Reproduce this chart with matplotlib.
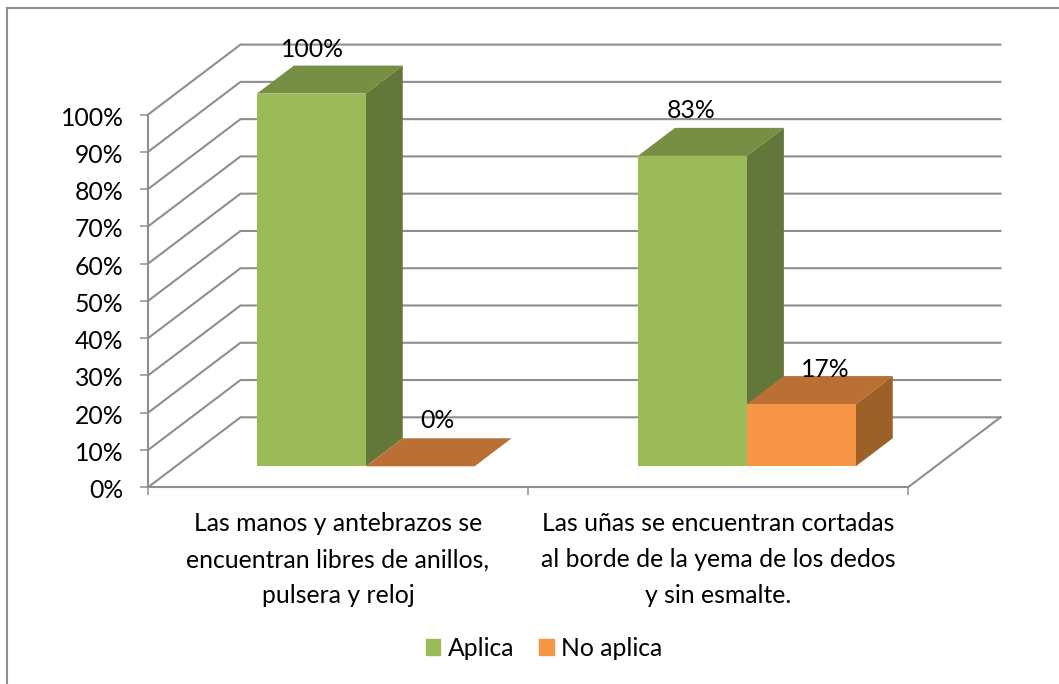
import matplotlib
matplotlib.use("Agg")
import matplotlib.pyplot as plt
from matplotlib.patches import Polygon, Patch
from matplotlib.lines import Line2D
from matplotlib.transforms import Affine2D

plt.rcParams['font.family'] = ['Lato', 'DejaVu Sans']

categories = ["Las manos y antebrazos se\nencuentran libres de anillos,\npulsera y reloj",
              "Las uñas se encuentran cortadas\nal borde de la yema de los dedos\ny sin esmalte."]
series_names = ["Aplica", "No aplica"]
aplica = [100, 83.3]
no_aplica = [0, 16.7]
y_ticks = [0, 10, 20, 30, 40, 50, 60, 70, 80, 90, 100]

FS = 17.8
GRID = "#8e8e8e"
FACE = {"Aplica": ("#9BBB59", "#778F42", "#64773A"),
        "No aplica": ("#F79646", "#BA7034", "#9C6029")}
LABEL_OFF = {"Aplica": [(1.5, 44), (-1.5, 45)], "No aplica": [(17, 46), (24, 35)]}

W, H = 1059, 684
fig = plt.figure(figsize=(W / 100, H / 100), dpi=100, facecolor="white")

# geometry in pixels of the axes box
L, R, B, T = 148, 1002, 487.3, 44.7
PX_CAT = 380.0
PX_PCT = 3.727
DX, DY = 92.5, 70.0

ax = fig.add_axes([L / W, 1 - B / H, (R - L) / W, (B - T) / H])
ax.set_xlim(0, (R - L) / PX_CAT)
ax.set_ylim(0, (B - T) / PX_PCT)
ax.patch.set_visible(False)


def proj(x, y, d):
    """category x, percent y, depth d (0 front .. 1 back) to axes data coords"""
    return x + d * DX / PX_CAT, y + d * DY / PX_PCT


# walls
for v in y_ticks:
    pts = [proj(0, v, 0), proj(0, v, 1), proj(2, v, 1)]
    ax.plot(*zip(*pts), color=GRID, lw=1.5, zorder=1, solid_joinstyle="miter", clip_on=False)
ax.plot(*zip(proj(2, 0, 0), proj(2, 0, 1)), color=GRID, lw=1.5, zorder=1, clip_on=False)


def bar3d(x0, x1, v, name, z):
    front, top, side = FACE[name]
    d0, d1 = 0.3, 0.7
    faces = [
        ([proj(x1, 0, d0), proj(x1, 0, d1), proj(x1, v, d1), proj(x1, v, d0)], side),
        ([proj(x0, v, d0), proj(x1, v, d0), proj(x1, v, d1), proj(x0, v, d1)], top),
        ([proj(x0, 0, d0), proj(x1, 0, d0), proj(x1, v, d0), proj(x0, v, d0)], front),
    ]
    for pts, c in faces:
        ax.add_patch(Polygon(pts, closed=True, facecolor=c, edgecolor="none", zorder=z))


BW = 0.2865
for s, (name, vals) in enumerate(zip(series_names, [aplica, no_aplica])):
    for i, v in enumerate(vals):
        x0 = i + 0.5 - BW + s * BW + (0.003 if i else 0)
        bar3d(x0, x0 + BW, v, name, 2 + s)
        xc, yc = proj(x0 + BW / 2, v, 0.3)
        ax.annotate(f"{v:.0f}%", (xc, yc), xytext=LABEL_OFF[name][i], textcoords="offset pixels",
                    ha="center", va="center", fontsize=FS, color="black", zorder=5,
                    annotation_clip=False)

# axes
for sp in ("top", "right"):
    ax.spines[sp].set_visible(False)
for sp in ("left", "bottom"):
    ax.spines[sp].set_color(GRID)
    ax.spines[sp].set_linewidth(1.5)
ax.spines["left"].set_bounds(0, 100)
ax.spines["bottom"].set_bounds(0, 2)
ax.set_yticks(y_ticks, [f"{v}%" for v in y_ticks], fontsize=FS)
ax.set_xticks([0, 1, 2], ["", "", ""])
ax.set_xticks([0.5, 1.5], categories, minor=True, fontsize=FS, linespacing=1.68)
ax.tick_params(axis="y", length=5.5, width=1.1, color=GRID, pad=12)
ax.tick_params(axis="x", which="major", length=5.5, width=1.1, color=GRID)
ax.tick_params(axis="x", which="minor", length=0, pad=18)
for lbl in ax.get_yticklabels():
    lbl.set_transform(lbl.get_transform() + Affine2D().translate(0, -1.5))

# legend
handles = [Patch(facecolor=FACE[n][0], edgecolor=FACE[n][0], label=n) for n in series_names]
fig.legend(handles=handles, loc="center", bbox_to_anchor=(544 / W, 1 - 648 / H), ncol=2,
           frameon=False, fontsize=FS, handlelength=0.6, handleheight=0.6,
           handletextpad=0.3, columnspacing=1.0, borderpad=0)

# chart frame
fig.add_artist(Line2D([7 / W, 7 / W], [0, 1 - 8 / H], color=GRID, lw=1.5, transform=fig.transFigure))
fig.add_artist(Line2D([7 / W, 1], [1 - 8 / H, 1 - 8 / H], color=GRID, lw=1.5, transform=fig.transFigure))

fig.savefig("out.png", dpi=100)
